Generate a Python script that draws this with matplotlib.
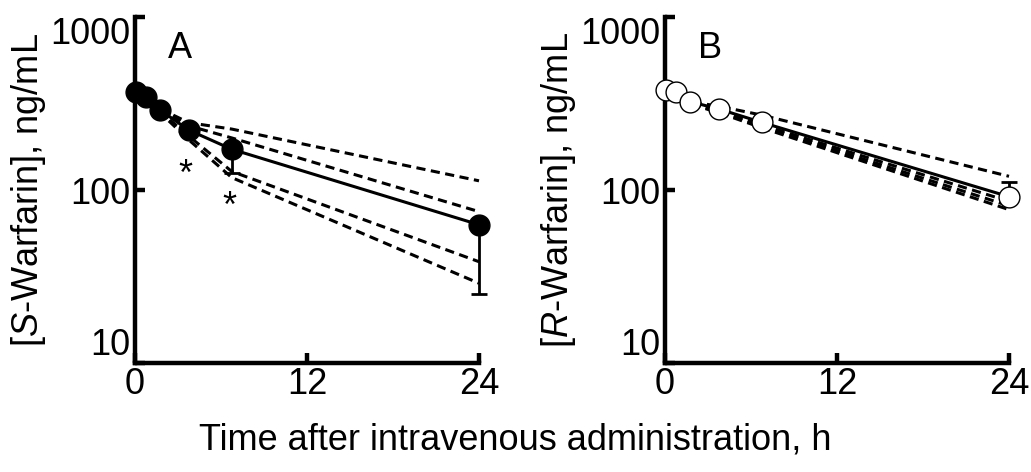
import matplotlib
matplotlib.use("Agg")
import matplotlib.pyplot as plt
import numpy as np

plt.rcParams['font.family'] = ['Liberation Sans', 'DejaVu Sans']
plt.rcParams['mathtext.fontset'] = 'custom'
plt.rcParams['mathtext.rm'] = 'Liberation Sans'
plt.rcParams['mathtext.it'] = 'Liberation Sans:italic'

# ---- data ----
time_h = [0.1, 0.75, 1.75, 3.75, 6.75, 24]

s_mean = [370, 346, 290, 222, 172, 63]
s_err_low = [10, 10, 10, 12, 47, 38]
s_dashed = [
    [370, 346, 295, 245, 225, 113],
    [370, 346, 292, 235, 200, 75],
    [370, 346, 285, 205, 128, 38.5],
    [370, 346, 280, 195, 118, 28.9],
]

r_mean = [379, 370, 324, 294, 246, 91.5]
r_err_high = [5, 5, 5, 5, 5, 19.5]
r_dashed = [
    [379, 370, 324, 305, 271, 120],
    [379, 368, 318, 287, 238, 86],
    [379, 366, 316, 283, 233, 81],
    [379, 364, 314, 280, 229, 77],
]

s_stars_t = [3.5, 6.6]
s_stars_v = [122, 79]

xticks = [0, 12, 24]
xticklabels = ['0', '12', '24']
yticks = [10, 100, 1000]
yticklabels = ['10', '100', '1000']

xlabel = 'Time after intravenous administration, h'
ylabel_a = r'[$\it{S}$-Warfarin], ng/mL'
ylabel_b = r'[$\it{R}$-Warfarin], ng/mL'

# ---- figure ----
W, H = 1031, 472
fig = plt.figure(figsize=(W / 100, H / 100), dpi=100)

def px_axes(x0, x1, y_top, y_bot):
    return fig.add_axes([x0 / W, 1 - y_bot / H, (x1 - x0) / W, (y_bot - y_top) / H])

axA = px_axes(135, 479, 17, 363)
axB = px_axes(665, 1009, 17, 363)

FS = 26
dash = (0, (3.0, 1.8))

def style(ax, ylabel, label):
    ax.set_yscale('log')
    ax.set_xlim(0, 24)
    ax.set_ylim(10, 1000)
    for s in ['top', 'right']:
        ax.spines[s].set_visible(False)
    for s in ['left', 'bottom']:
        ax.spines[s].set_linewidth(3.2)
        ax.spines[s].set_capstyle('projecting')
    ax.set_xticks(xticks)
    ax.set_xticklabels(xticklabels)
    ax.set_yticks(yticks)
    ax.set_yticklabels(yticklabels)
    ax.yaxis.set_minor_locator(matplotlib.ticker.NullLocator())
    ax.tick_params(direction='in', length=7, width=3.2, labelsize=FS, pad=3)
    ax.tick_params(axis='y', pad=3)
    labs = ax.get_yticklabels()
    labs[0].set_va('bottom')
    labs[2].set_va('top')
    ax.set_ylabel(ylabel, fontsize=FS, labelpad=2)
    ax.text(0.13, 0.91, label, transform=ax.transAxes, fontsize=FS,
            ha='center', va='center')

# Panel A
for d in s_dashed:
    axA.plot(time_h, d, color='black', lw=2.2, ls=dash, clip_on=False, zorder=2)
axA.errorbar(time_h, s_mean, yerr=[s_err_low, [0] * len(s_mean)], fmt='none',
             ecolor='black', elinewidth=2.0, capsize=6, capthick=2.0,
             clip_on=False, zorder=3)
axA.plot(time_h, s_mean, color='black', lw=2.2, marker='o', ms=15,
         mfc='black', mec='black', clip_on=False, zorder=4)
for t, v in zip(s_stars_t, s_stars_v):
    axA.text(t, v, '*', fontsize=FS, ha='center', va='center')
style(axA, ylabel_a, 'A')

# Panel B
for d in r_dashed:
    axB.plot(time_h, d, color='black', lw=2.2, ls=dash, clip_on=False, zorder=2)
axB.errorbar(time_h, r_mean, yerr=[[0] * len(r_mean), r_err_high], fmt='none',
             ecolor='black', elinewidth=2.0, capsize=6, capthick=2.0,
             clip_on=False, zorder=3)
axB.plot(time_h, r_mean, color='black', lw=2.2, marker='o', ms=15,
         mfc='white', mec='black', mew=1.0, clip_on=False, zorder=4)
style(axB, ylabel_b, 'B')

fig.text(0.5, 1 - 440 / H, xlabel, fontsize=FS, ha='center', va='center')

fig.savefig('out.png', dpi=100)
